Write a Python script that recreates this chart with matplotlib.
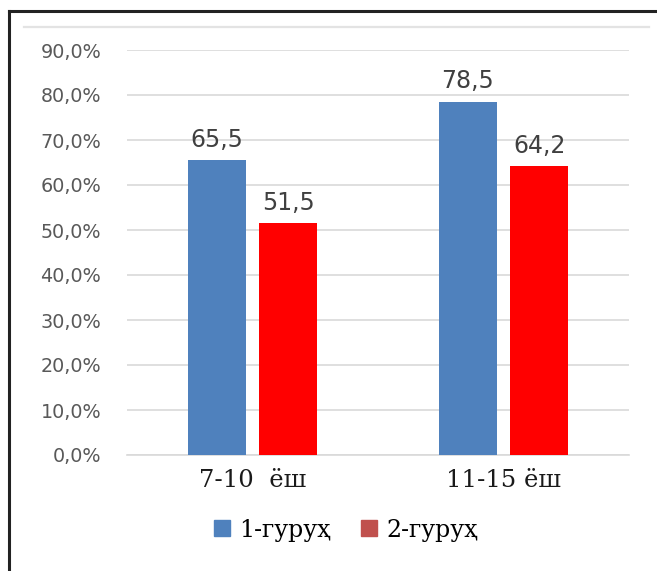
import matplotlib
matplotlib.use("Agg")
import matplotlib.pyplot as plt
from matplotlib.lines import Line2D
from matplotlib.patches import Patch
from matplotlib.ticker import FuncFormatter
import numpy as np

categories = ["7-10  ёш", "11-15 ёш"]
series_names = ["1-гуруҳ", "2-гуруҳ"]
group1 = [65.5, 78.5]
group2 = [51.5, 64.2]
y_ticks = [0, 10, 20, 30, 40, 50, 60, 70, 80, 90]

bar_colors = ["#4F81BD", "#FF0000"]
legend_colors = ["#4F81BD", "#C0504D"]
serif = ["DejaVu Serif", "Liberation Serif"]
sans = ["DejaVu Sans"]

fig = plt.figure(figsize=(6.57, 5.71), dpi=100)
ax = fig.add_axes([127 / 657, 116 / 571, 502 / 657, 405 / 571])

x = np.arange(len(categories))
width = 0.23
offset = 0.142
for vals, col, dx in [(group1, bar_colors[0], -offset), (group2, bar_colors[1], offset)]:
    bars = ax.bar(x + dx, [v / 100 for v in vals], width=width, color=col, zorder=3)
    for b, v in zip(bars, vals):
        ax.annotate(f"{v:.1f}".replace(".", ","),
                    (b.get_x() + b.get_width() / 2, b.get_height()),
                    xytext=(0, 6), textcoords="offset points",
                    ha="center", va="bottom", fontsize=17,
                    color="#404040", family=sans)

ax.set_xlim(-0.5, 1.5)
ax.set_ylim(0, 0.9)
ax.set_yticks([t / 100 for t in y_ticks])
ax.yaxis.set_major_formatter(FuncFormatter(lambda v, p: f"{v * 100:.1f}%".replace(".", ",")))
for lab in ax.get_yticklabels():
    lab.set_family(sans)
ax.tick_params(axis="y", length=0, pad=18.5, labelsize=13.8, labelcolor="#595959")
ax.set_xticks(x)
ax.set_xticklabels(categories, family=serif, fontsize=17.5, color="#1a1a1a")
ax.tick_params(axis="x", length=0, pad=10)
ax.grid(axis="y", color="#D9D9D9", linewidth=1.2, zorder=0)
for s in ["top", "right", "left"]:
    ax.spines[s].set_visible(False)
ax.spines["bottom"].set_color("#D9D9D9")
ax.spines["bottom"].set_linewidth(1.2)

handles = [Patch(color=c) for c in legend_colors]
leg = fig.legend(handles, series_names, loc="center", bbox_to_anchor=(346 / 657, 1 - 530 / 571),
                 ncol=2, frameon=False, handlelength=0.65, handleheight=0.65,
                 handletextpad=0.4, columnspacing=1.3,
                 prop={"family": serif, "size": 17})

# chart frame
fig.add_artist(Line2D([9 / 657, 9 / 657], [0, 1 - 11 / 571], color="#222222", linewidth=2.2))
fig.add_artist(Line2D([9 / 657, 1], [1 - 11 / 571, 1 - 11 / 571], color="#222222", linewidth=2.2))
fig.add_artist(Line2D([24 / 657, 649 / 657], [1 - 27 / 571, 1 - 27 / 571], color="#E3E3E3", linewidth=1.6))

fig.savefig("out.png", dpi=100)
